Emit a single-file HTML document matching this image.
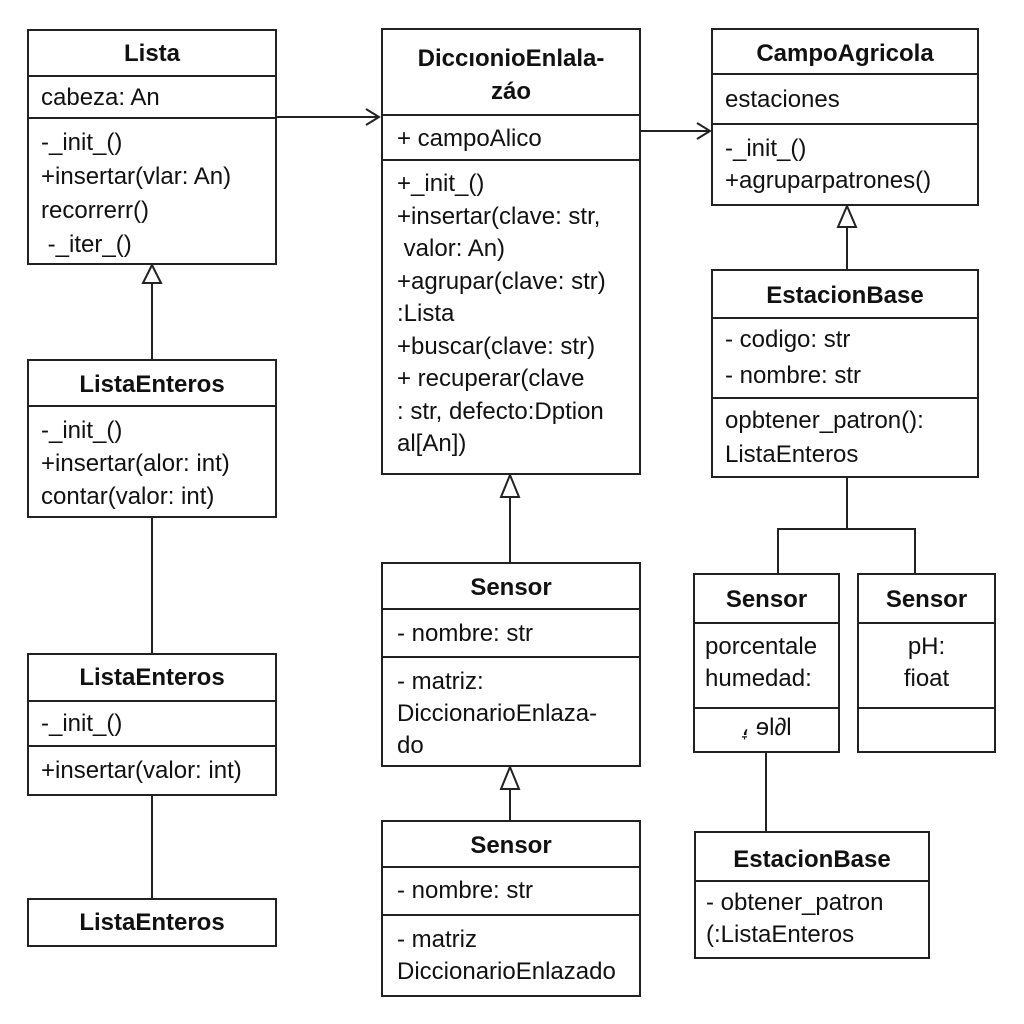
<!DOCTYPE html>
<html><head><meta charset="utf-8"><style>
body{margin:0;width:1024px;height:1024px;background:#fff;position:relative;overflow:hidden;font-family:"Liberation Sans",sans-serif;color:#111}
.b{position:absolute;border:2px solid #222;box-sizing:border-box;background:#fff}
.r{position:absolute;left:0;right:0;border-top:2px solid #222}
.t{position:absolute;font-size:24px;line-height:33px;white-space:nowrap}
.h{font-weight:bold;left:0;right:0;text-align:center}
.c{left:0;right:0;text-align:center}
</style></head><body>
<svg width="1024" height="1024" style="position:absolute;left:0;top:0" fill="none" stroke="#222" stroke-width="2">
<line x1="152" y1="283" x2="152" y2="359"/><polygon points="152,265 143,283 161,283" fill="#fff"/>
<line x1="152" y1="517" x2="152" y2="653"/><line x1="152" y1="795" x2="152" y2="898"/>
<line x1="276" y1="117" x2="379" y2="117"/><polyline points="366,109 379,117 366,125"/>
<line x1="640" y1="131" x2="710" y2="131"/><polyline points="697,123 710,131 697,139"/>
<line x1="510" y1="497" x2="510" y2="562"/><polygon points="510,475 501,497 519,497" fill="#fff"/>
<line x1="510" y1="789" x2="510" y2="820"/><polygon points="510,767 501,789 519,789" fill="#fff"/>
<line x1="847" y1="227" x2="847" y2="269"/><polygon points="847,206 838,227 856,227" fill="#fff"/>
<polyline points="847,477 847,529 778,529 778,573"/><polyline points="847,529 915,529 915,573"/>
<line x1="766" y1="752" x2="766" y2="831"/>
</svg>

<div class="b" style="left:27px;top:29px;width:250px;height:236px">
<div class="t h" style="top:6px">Lista</div><div class="r" style="top:44px"></div>
<div class="t" style="left:12px;top:50px">cabeza: An</div><div class="r" style="top:86px"></div>
<div class="t" style="left:12px;top:95px;line-height:34px">-_init_()<br>+insertar(vlar: An)<br>recorrerr()<br>&nbsp;-_iter_()</div></div>

<div class="b" style="left:27px;top:359px;width:250px;height:159px">
<div class="t h" style="top:7px">ListaEnteros</div><div class="r" style="top:44px"></div>
<div class="t" style="left:12px;top:53px;line-height:33px">-_init_()<br>+insertar(alor: int)<br>contar(valor: int)</div></div>

<div class="b" style="left:27px;top:653px;width:250px;height:143px">
<div class="t h" style="top:6px">ListaEnteros</div><div class="r" style="top:45px"></div>
<div class="t" style="left:12px;top:52px">-_init_()</div><div class="r" style="top:90px"></div>
<div class="t" style="left:12px;top:99px">+insertar(valor: int)</div></div>

<div class="b" style="left:27px;top:898px;width:250px;height:49px">
<div class="t h" style="top:6px">ListaEnteros</div></div>

<div class="b" style="left:381px;top:28px;width:260px;height:447px">
<div class="t h" style="top:12px;line-height:33px">DiccıonioEnlala-<br>záo</div><div class="r" style="top:84px"></div>
<div class="t" style="left:14px;top:92px">+ campoAlico</div><div class="r" style="top:129px"></div>
<div class="t" style="left:14px;top:138px;line-height:32.5px">+_init_()<br>+insertar(clave: str,<br>&nbsp;valor: An)<br>+agrupar(clave: str)<br>:Lista<br>+buscar(clave: str)<br>+ recuperar(clave<br>: str, defecto:Dption<br>al[An])</div></div>

<div class="b" style="left:381px;top:562px;width:260px;height:205px">
<div class="t h" style="top:7px">Sensor</div><div class="r" style="top:44px"></div>
<div class="t" style="left:14px;top:53px">- nombre: str</div><div class="r" style="top:92px"></div>
<div class="t" style="left:14px;top:102px;line-height:32px">- matriz:<br>DiccionarioEnlaza-<br>do</div></div>

<div class="b" style="left:381px;top:820px;width:260px;height:177px">
<div class="t h" style="top:7px">Sensor</div><div class="r" style="top:44px"></div>
<div class="t" style="left:14px;top:52px">- nombre: str</div><div class="r" style="top:92px"></div>
<div class="t" style="left:14px;top:102px;line-height:32px">- matriz<br>DiccionarioEnlazado</div></div>

<div class="b" style="left:711px;top:28px;width:268px;height:178px">
<div class="t h" style="top:7px">CampoAgricola</div><div class="r" style="top:43px"></div>
<div class="t" style="left:12px;top:53px">estaciones</div><div class="r" style="top:93px"></div>
<div class="t" style="left:12px;top:103px;line-height:32px">-_init_()<br>+agruparpatrones()</div></div>

<div class="b" style="left:711px;top:269px;width:268px;height:209px">
<div class="t h" style="top:8px">EstacionBase</div><div class="r" style="top:46px"></div>
<div class="t" style="left:12px;top:51px;line-height:36px">- codigo: str<br>- nombre: str</div><div class="r" style="top:126px"></div>
<div class="t" style="left:12px;top:133px;line-height:34px">opbtener_patron():<br>ListaEnteros</div></div>

<div class="b" style="left:693px;top:573px;width:147px;height:180px">
<div class="t h" style="top:8px">Sensor</div><div class="r" style="top:47px"></div>
<div class="t" style="left:10px;top:56px;line-height:32px">porcentale<br>humedad:</div><div class="r" style="top:132px"></div>
<div class="t c" style="top:136px">ׇ، ɘl∂l</div></div>

<div class="b" style="left:857px;top:573px;width:139px;height:180px">
<div class="t h" style="top:8px">Sensor</div><div class="r" style="top:47px"></div>
<div class="t c" style="top:56px;line-height:32px">pH:<br>fioat</div><div class="r" style="top:132px"></div></div>

<div class="b" style="left:694px;top:831px;width:236px;height:128px">
<div class="t h" style="top:10px">EstacionBase</div><div class="r" style="top:47px"></div>
<div class="t" style="left:10px;top:54px;line-height:32px">- obtener_patron<br>(:ListaEnteros</div></div>
</body></html>
